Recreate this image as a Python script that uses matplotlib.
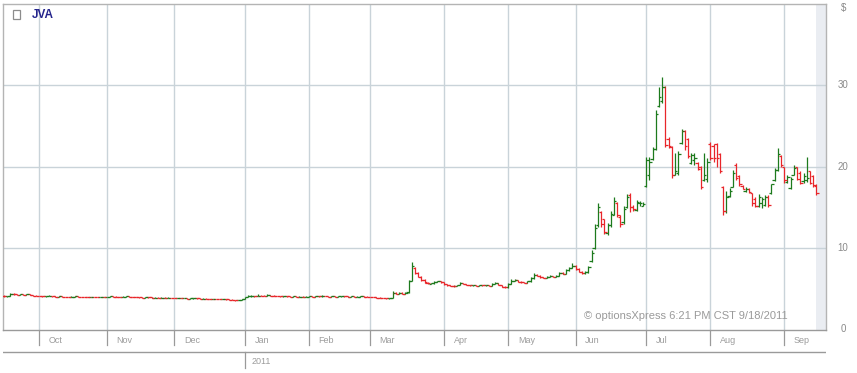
import numpy as np
import pandas as pd
import matplotlib
matplotlib.use("Agg")
import matplotlib.pyplot as plt
from matplotlib.patches import Rectangle

# ---------------- data ----------------
ticker = "JVA"
start_date = "2010-09-16"
end_date = "2011-09-16"
holidays = ["2010-11-25", "2010-12-24", "2011-01-17", "2011-02-21",
            "2011-04-22", "2011-05-30", "2011-07-04", "2011-09-05"]
y_ticks = [0, 10, 20, 30]
watermark = "\u00a9 optionsXpress 6:21 PM CST 9/18/2011"

opens = [
    # Sep 2010
    4.15, 4.05, 4.12, 4.40, 4.30, 4.28, 4.33, 4.25, 4.30, 4.22, 4.15,
    # Oct
    4.14, 4.08, 4.05, 4.09, 4.13, 4.06, 4.03, 4.06, 4.02, 4.00, 3.99, 4.03, 4.05, 4.02, 4.00, 3.98, 3.96, 3.99, 3.97, 3.95, 3.98,
    # Nov
    3.97, 4.02, 4.05, 4.03, 4.00, 3.98, 4.04, 4.06, 4.02, 3.99, 3.96, 3.94, 3.92, 3.95, 3.93, 3.90, 3.92, 3.89, 3.91, 3.88, 3.90,
    # Dec
    3.87, 3.85, 3.86, 3.83, 3.84, 3.80, 3.82, 3.85, 3.81, 3.78, 3.80, 3.76, 3.75, 3.77, 3.73, 3.72, 3.74, 3.70, 3.68, 3.65, 3.58, 3.62,
    # Jan 2011
    3.72, 3.96, 4.05, 4.10, 4.08, 4.15, 4.12, 4.10, 4.18, 4.15, 4.12, 4.10, 4.05, 4.08, 4.06, 4.03, 4.05, 4.02, 4.04, 4.01,
    # Feb
    4.03, 4.06, 4.04, 4.08, 4.05, 4.10, 4.07, 4.04, 4.06, 4.03, 4.05, 4.08, 4.06, 4.03, 4.05, 4.02, 4.04, 4.06, 4.03,
    # Mar
    4.00, 3.98, 3.95, 3.92, 3.88, 3.85, 3.82, 3.90, 4.45, 4.40, 4.52, 4.38, 4.55, 6.00, 7.60, 6.90, 6.50, 6.10, 5.75, 5.60, 5.65, 5.85, 5.90,
    # Apr
    5.80, 5.55, 5.40, 5.35, 5.30, 5.45, 5.70, 5.60, 5.45, 5.40, 5.42, 5.38, 5.45, 5.40, 5.43, 5.38, 5.60, 5.70, 5.45, 5.25,
    # May
    5.20, 5.60, 6.00, 6.05, 5.85, 5.80, 5.75, 5.90, 6.30, 6.70, 6.60, 6.40, 6.35, 6.50, 6.55, 6.45, 6.60, 6.90, 6.85, 7.30, 7.60,
    # Jun
    7.80, 7.40, 7.10, 6.95, 7.00, 8.40, 10.00, 12.80, 14.40, 13.50, 11.80, 12.80, 14.10, 15.50, 13.80, 13.20, 15.00, 16.50, 15.00, 14.70, 15.50, 15.20,
    # Jul
    17.6, 19.0, 20.9, 22.2, 27.4, 28.0, 29.8, 23.4, 22.4, 19.0, 19.2, 22.9, 24.3, 23.4, 20.4, 20.8, 20.4, 20.0, 18.3, 18.5,
    # Aug
    22.8, 22.5, 22.8, 21.5, 17.5, 14.5, 16.4, 17.5, 20.2, 18.8, 17.6, 17.0, 17.3, 16.7, 16.0, 15.2, 15.5, 15.3, 16.3, 16.7, 18.3, 19.6, 21.3,
    # Sep
    20.0, 18.1, 17.4, 19.0, 20.0, 19.2, 18.2, 18.4, 19.4, 18.8, 17.6,
]
highs = [
    4.18, 4.12, 4.50, 4.42, 4.34, 4.36, 4.35, 4.32, 4.31, 4.24, 4.18,
    4.15, 4.10, 4.12, 4.18, 4.14, 4.08, 4.08, 4.07, 4.04, 4.02, 4.05, 4.08, 4.06, 4.04, 4.02, 4.00, 4.01, 4.00, 3.99, 4.00, 4.00,
    4.04, 4.08, 4.07, 4.05, 4.02, 4.06, 4.09, 4.07, 4.04, 4.01, 3.98, 3.96, 3.98, 3.97, 3.95, 3.95, 3.94, 3.94, 3.93, 3.93, 3.92,
    3.89, 3.89, 3.88, 3.87, 3.86, 3.84, 3.87, 3.87, 3.83, 3.82, 3.82, 3.78, 3.79, 3.79, 3.75, 3.76, 3.76, 3.72, 3.70, 3.67, 3.64, 3.72,
    3.98, 4.20, 4.28, 4.15, 4.30, 4.18, 4.25, 4.32, 4.20, 4.18, 4.15, 4.12, 4.12, 4.10, 4.08, 4.08, 4.06, 4.07, 4.06, 4.06,
    4.09, 4.08, 4.10, 4.10, 4.20, 4.12, 4.09, 4.08, 4.08, 4.07, 4.10, 4.10, 4.08, 4.07, 4.07, 4.06, 4.08, 4.08, 4.05,
    4.02, 4.00, 3.97, 3.94, 3.90, 3.88, 3.92, 4.70, 4.55, 4.60, 4.55, 4.60, 6.10, 8.30, 7.70, 7.00, 6.60, 6.15, 5.85, 5.75, 5.95, 6.00, 5.95,
    5.85, 5.60, 5.45, 5.40, 5.50, 5.80, 5.75, 5.62, 5.50, 5.48, 5.46, 5.50, 5.48, 5.48, 5.45, 5.65, 5.80, 5.72, 5.50, 5.30,
    5.65, 6.15, 6.20, 6.10, 5.90, 5.88, 5.95, 6.40, 6.90, 6.80, 6.65, 6.45, 6.60, 6.70, 6.60, 6.70, 7.00, 7.05, 7.40, 7.70, 8.10,
    7.90, 7.55, 7.20, 7.15, 7.85, 9.70, 13.00, 15.50, 14.50, 13.60, 13.10, 14.50, 16.30, 15.60, 14.00, 15.10, 16.60, 16.70, 15.30, 15.90, 15.80, 15.70,
    21.2, 21.2, 22.4, 26.9, 29.8, 31.0, 29.9, 23.6, 22.5, 21.7, 21.9, 24.6, 24.5, 23.5, 21.7, 21.7, 20.5, 20.1, 21.6, 21.0,
    23.0, 22.7, 22.9, 21.6, 17.6, 17.0, 17.4, 19.6, 20.4, 19.0, 17.7, 17.5, 17.4, 16.8, 16.2, 16.6, 16.3, 16.5, 16.5, 17.9, 19.8, 22.3, 21.4,
    20.0, 18.9, 18.7, 20.2, 20.0, 19.4, 19.2, 21.2, 19.5, 19.0, 17.9,
]
lows = [
    4.02, 4.00, 4.10, 4.25, 4.26, 4.25, 4.22, 4.22, 4.20, 4.12, 4.10,
    4.06, 4.03, 4.03, 4.07, 4.03, 4.01, 4.01, 4.00, 3.97, 3.96, 3.97, 4.01, 4.00, 3.98, 3.96, 3.94, 3.94, 3.95, 3.93, 3.93, 3.94,
    3.95, 4.00, 4.01, 3.98, 3.96, 3.97, 4.02, 4.00, 3.97, 3.94, 3.92, 3.90, 3.90, 3.91, 3.88, 3.88, 3.87, 3.87, 3.86, 3.86, 3.85,
    3.83, 3.83, 3.81, 3.81, 3.78, 3.78, 3.80, 3.79, 3.76, 3.76, 3.74, 3.73, 3.73, 3.71, 3.70, 3.70, 3.68, 3.66, 3.62, 3.55, 3.56, 3.60,
    3.70, 3.94, 4.03, 4.04, 4.06, 4.08, 4.07, 4.08, 4.12, 4.09, 4.07, 4.02, 4.03, 4.03, 4.00, 4.01, 3.99, 4.00, 3.98, 3.99,
    4.01, 4.02, 4.02, 4.03, 4.03, 4.05, 4.02, 4.02, 4.01, 4.01, 4.03, 4.04, 4.01, 4.01, 4.00, 4.00, 4.02, 4.01, 3.98,
    3.96, 3.93, 3.90, 3.86, 3.83, 3.80, 3.80, 3.88, 4.35, 4.36, 4.33, 4.35, 4.50, 5.90, 6.80, 6.40, 6.00, 5.70, 5.62, 5.55, 5.60, 5.80, 5.70,
    5.50, 5.35, 5.30, 5.25, 5.28, 5.42, 5.55, 5.40, 5.36, 5.36, 5.34, 5.35, 5.36, 5.37, 5.34, 5.35, 5.55, 5.40, 5.20, 5.12,
    5.15, 5.55, 5.90, 5.80, 5.72, 5.68, 5.70, 5.85, 6.25, 6.55, 6.35, 6.30, 6.30, 6.40, 6.40, 6.40, 6.55, 6.75, 6.80, 7.20, 7.50,
    7.30, 7.00, 6.80, 6.85, 6.95, 8.30, 9.90, 12.60, 12.60, 11.70, 11.60, 12.60, 14.00, 13.80, 12.60, 13.00, 14.90, 14.40, 14.50, 14.60, 15.20, 15.10,
    17.5, 18.4, 20.8, 22.0, 27.3, 27.8, 22.4, 22.3, 18.6, 18.9, 19.0, 22.8, 22.0, 21.1, 20.3, 20.2, 19.6, 17.3, 18.2, 18.1,
    20.8, 20.5, 20.0, 19.2, 14.0, 14.3, 16.3, 17.5, 18.3, 17.6, 17.2, 16.9, 16.8, 15.2, 15.0, 15.0, 14.9, 15.2, 15.0, 16.6, 18.2, 19.5, 20.0,
    18.0, 18.0, 17.3, 19.0, 18.3, 17.8, 18.0, 18.1, 17.8, 17.5, 16.5,
]
closes = [
    4.05, 4.10, 4.40, 4.30, 4.28, 4.33, 4.25, 4.30, 4.22, 4.15, 4.14,
    4.08, 4.06, 4.10, 4.13, 4.05, 4.04, 4.06, 4.02, 4.00, 3.98, 4.03, 4.05, 4.02, 4.00, 3.98, 3.96, 3.99, 3.97, 3.95, 3.98, 3.97,
    4.02, 4.05, 4.03, 4.00, 3.98, 4.04, 4.06, 4.02, 3.99, 3.96, 3.94, 3.92, 3.95, 3.93, 3.90, 3.92, 3.89, 3.91, 3.88, 3.90, 3.87,
    3.85, 3.86, 3.83, 3.84, 3.80, 3.82, 3.85, 3.81, 3.78, 3.80, 3.76, 3.75, 3.77, 3.73, 3.72, 3.74, 3.70, 3.68, 3.65, 3.58, 3.62, 3.70,
    3.95, 4.05, 4.10, 4.08, 4.15, 4.12, 4.10, 4.18, 4.15, 4.12, 4.10, 4.05, 4.08, 4.06, 4.03, 4.05, 4.02, 4.04, 4.01, 4.03,
    4.06, 4.04, 4.08, 4.05, 4.10, 4.07, 4.04, 4.06, 4.03, 4.05, 4.08, 4.06, 4.03, 4.05, 4.02, 4.04, 4.06, 4.03, 4.00,
    3.98, 3.95, 3.92, 3.88, 3.85, 3.82, 3.88, 4.45, 4.40, 4.52, 4.38, 4.50, 5.95, 7.80, 6.90, 6.50, 6.10, 5.80, 5.70, 5.65, 5.85, 5.90, 5.80,
    5.55, 5.40, 5.35, 5.30, 5.45, 5.70, 5.60, 5.45, 5.40, 5.42, 5.38, 5.45, 5.40, 5.43, 5.38, 5.60, 5.70, 5.45, 5.25, 5.20,
    5.60, 6.00, 6.05, 5.85, 5.80, 5.75, 5.90, 6.30, 6.70, 6.60, 6.40, 6.35, 6.50, 6.55, 6.45, 6.60, 6.90, 6.85, 7.30, 7.60, 7.80,
    7.40, 7.10, 6.95, 7.00, 7.70, 9.40, 12.50, 15.00, 12.90, 12.00, 12.80, 14.20, 15.80, 14.00, 13.00, 14.80, 16.20, 15.00, 14.80, 15.60, 15.50, 15.40,
    20.8, 20.5, 22.2, 26.5, 28.5, 29.8, 22.6, 22.5, 18.9, 19.5, 21.5, 24.3, 22.5, 21.3, 21.4, 21.0, 19.7, 17.5, 19.0, 20.5,
    21.0, 21.0, 21.0, 19.5, 14.5, 16.2, 17.0, 19.2, 18.6, 17.8, 17.3, 17.3, 16.9, 15.5, 15.2, 16.2, 16.0, 16.3, 15.3, 17.8, 19.6, 21.5, 20.2,
    18.3, 18.7, 18.5, 19.8, 18.5, 18.0, 18.8, 18.6, 18.0, 17.7, 16.8,
]

# ---------------- trading calendar ----------------
dates = pd.bdate_range(start_date, end_date)
dates = dates[~dates.isin(pd.to_datetime(holidays))]
n = len(dates)
assert n == len(opens) == len(highs) == len(lows) == len(closes), (n, len(opens), len(highs), len(lows), len(closes))
x = np.arange(n)
o = np.array(opens); h = np.array(highs); l = np.array(lows); c = np.array(closes)

month_idx = [i for i in range(1, n) if dates[i].month != dates[i - 1].month]
month_lab = [dates[i].strftime("%b") for i in month_idx]
year_idx = [i for i in range(1, n) if dates[i].year != dates[i - 1].year]
year_lab = [str(dates[i].year) for i in year_idx]

# ---------------- figure ----------------
W, H = 857, 373
fig = plt.figure(figsize=(W / 100, H / 100), dpi=100)
fig.patch.set_facecolor("white")
plt.rcParams["font.family"] = ["Liberation Sans", "DejaVu Sans"]

left_px, right_px, top_px, bot_px = 3, 826, 3.5, 329.5
ax = fig.add_axes([left_px / W, 1 - bot_px / H, (right_px - left_px) / W, (bot_px - top_px) / H])
ax.set_xlim(-0.3, 256.0)
ax.set_ylim(0, 40)

grid_c = "#c9d3d9"
for i in month_idx:
    ax.axvline(i, color=grid_c, lw=1.0, zorder=1)
for v in y_ticks[1:]:
    ax.axhline(v, color=grid_c, lw=1.0, zorder=1)
ax.axvspan(n - 1.1, 256.0, color="#eaedf2", lw=0, zorder=0.5)

up = c >= o
col = np.where(up, "#1d7a1d", "#e8262a")
lw = 0.9
ax.vlines(x, l, h, colors=col, lw=lw, zorder=3)
ax.hlines(o, x - 0.75, x, colors=col, lw=lw, zorder=3)
ax.hlines(c, x, x + 0.75, colors=col, lw=lw, zorder=3)

for s in ax.spines.values():
    s.set_color("#b4b4b4")
    s.set_linewidth(1.0)
ax.spines["bottom"].set_color("#9a9a9a")
ax.set_xticks([]); ax.set_yticks([])

ax.text(0.7065, 0.042, watermark, transform=ax.transAxes, fontsize=8, color="#9a9a9a",
        ha="left", va="center", zorder=4)

# right axis labels
for v in y_ticks:
    yy = bot_px - v * (bot_px - top_px) / 40
    fig.text(843 / W, 1 - yy / H, str(v), ha="center", va="center", fontsize=7, color="#8a8a8a")
fig.text(844 / W, 1 - 8 / H, "$", ha="center", va="center", fontsize=7, color="#8a8a8a")

# legend box + ticker
fig.add_artist(Rectangle((12.5 / W, 1 - 19 / H), 7 / W, 9 / H, transform=fig.transFigure,
                         fill=False, ec="#8c8c8c", lw=0.9))
fig.text(31.5 / W, 1 - 14.5 / H, ticker, ha="left", va="center", fontsize=8.5,
         fontweight="bold", color="#24248c")

# bottom date strip
sx = fig.add_axes([left_px / W, 1 - 372 / H, (right_px - left_px) / W, (372 - bot_px) / H])
sx.set_xlim(ax.get_xlim())
sx.set_ylim(372, bot_px)
sx.axis("off")
for i, lab in zip(month_idx, month_lab):
    sx.plot([i, i], [bot_px, 345], color="#9a9a9a", lw=0.9)
    sx.annotate(lab, (i, 340), xytext=(7, 0), textcoords="offset points",
                ha="left", va="center", fontsize=6.5, color="#9c9c9c")
sx.axhline(352, color="#9a9a9a", lw=1.0)
for i, lab in zip(year_idx, year_lab):
    sx.plot([i, i], [352, 368], color="#9a9a9a", lw=0.9)
    sx.annotate(lab, (i, 361.5), xytext=(5, 0), textcoords="offset points",
                ha="left", va="center", fontsize=6.5, color="#9c9c9c")

fig.savefig("out.png", dpi=100)
